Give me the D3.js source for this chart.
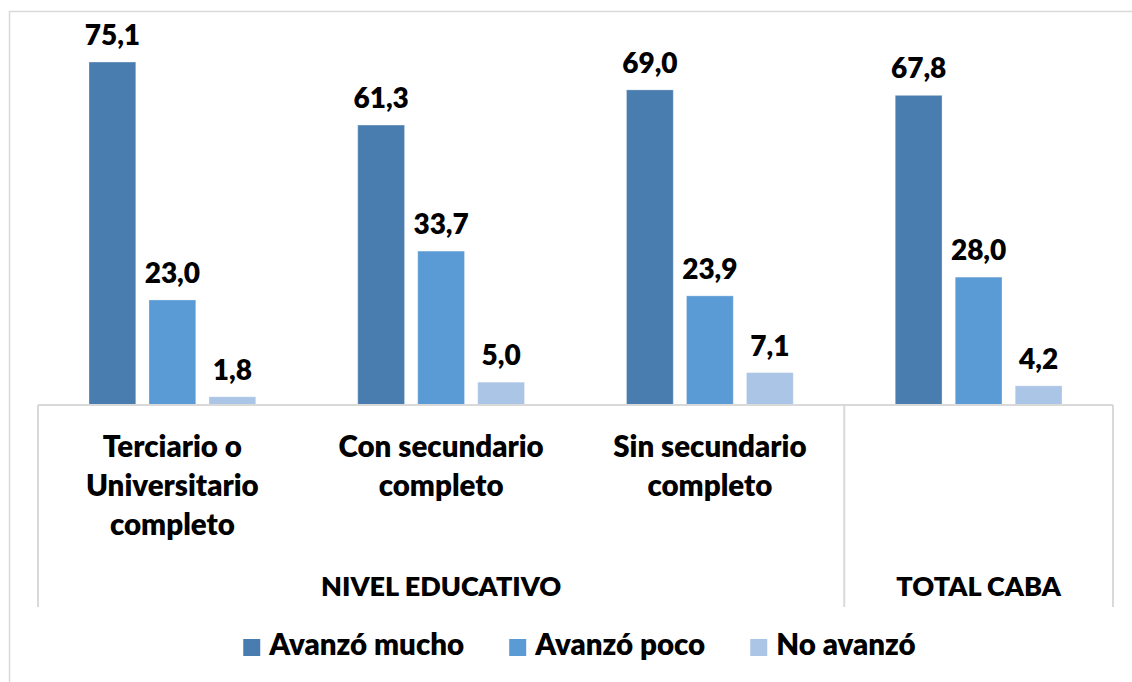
<!DOCTYPE html>
<html>
<head>
<meta charset="utf-8">
<script src="https://cdn.jsdelivr.net/npm/d3@7"></script>
<style>
  body { margin: 0; background: #fff; overflow: hidden; }
  text { font-family: Lato, "Open Sans", sans-serif; font-weight: 800; fill: #000; }
</style>
</head>
<body>
<script>
// data
var categories = ["Terciario o|Universitario|completo", "Con secundario|completo", "Sin secundario|completo", ""];
var groupLabels = ["NIVEL EDUCATIVO", "TOTAL CABA"];
var groupSpans = [3, 1];
var series = ["Avanzó mucho", "Avanzó poco", "No avanzó"];
var avanzoMucho = [75.1, 61.3, 69.0, 67.8];
var avanzoPoco = [23.0, 33.7, 23.9, 28.0];
var noAvanzo = [1.8, 5.0, 7.1, 4.2];
var colors = ["#4A7DAF", "#5B9BD5", "#ABC5E6"];

var values = [avanzoMucho, avanzoPoco, noAvanzo];

var width = 1132;
var height = 682;
var baseY = 405;
var gridColor = "#D9D9D9";

var svg = d3.select("body").append("svg")
        .attr("width", width)
        .attr("height", height);

// chart frame (runs past the right and bottom of the picture)
svg.append("rect")
    .attr("x", 9.5)
    .attr("y", 11.5)
    .attr("width", 1140)
    .attr("height", 700)
    .attr("fill", "none")
    .attr("stroke", gridColor)
    .attr("stroke-width", 1.5);

var x0 = d3.scaleBand()
    .domain(d3.range(categories.length))
    .range([38, 1113]);

var x1 = d3.scaleBand()
    .domain(d3.range(series.length))
    .range([0, x0.bandwidth()])
    .paddingInner(0.22)
    .paddingOuter(0.85);

var y = d3.scaleLinear()
    .domain([0, 80])
    .range([baseY, baseY - 80 * 4.567]);

var fmt = function(v) { return d3.format(".1f")(v).replace(".", ","); };

// bars
series.forEach(function(s, si) {
    var g = svg.append("g");
    g.selectAll("rect").data(values[si]).enter().append("rect")
        .attr("x", function(d, i) { return x0(i) + x1(si); })
        .attr("y", function(d) { return y(d); })
        .attr("width", x1.bandwidth())
        .attr("height", function(d) { return y(0) - y(d); })
        .attr("fill", colors[si])
        .attr("stroke", "#fff")
        .attr("stroke-opacity", 0.3);

    g.selectAll("text").data(values[si]).enter().append("text")
        .attr("x", function(d, i) { return x0(i) + x1(si) + x1.bandwidth() / 2; })
        .attr("y", function(d) { return y(d) - 17; })
        .attr("text-anchor", "middle")
        .style("font-size", "28px")
        .text(fmt);
});

// axis line and category separators
svg.append("line")
    .attr("x1", x0.range()[0]).attr("x2", x0.range()[1])
    .attr("y1", baseY).attr("y2", baseY)
    .attr("stroke", gridColor).attr("stroke-width", 2);

var sepIdx = [0];
var acc = 0;
groupSpans.forEach(function(n) { acc += n; sepIdx.push(acc); });
svg.selectAll(".sep").data(sepIdx).enter().append("line")
    .classed("sep", true)
    .attr("x1", function(d) { return x0.range()[0] + d * x0.step(); })
    .attr("x2", function(d) { return x0.range()[0] + d * x0.step(); })
    .attr("y1", baseY)
    .attr("y2", 607)
    .attr("stroke", gridColor)
    .attr("stroke-width", 2);

// category labels (multi-line)
categories.forEach(function(c, i) {
    if (!c) return;
    var t = svg.append("text")
        .attr("text-anchor", "middle")
        .style("font-size", "29.5px");
    c.split("|").forEach(function(line, li) {
        t.append("tspan")
            .attr("x", x0(i) + x0.bandwidth() / 2)
            .attr("y", 457 + li * 39)
            .text(line);
    });
});

// outer group labels
var start = 0;
groupLabels.forEach(function(g, gi) {
    var xa = x0.range()[0] + start * x0.step();
    var xb = xa + groupSpans[gi] * x0.step();
    svg.append("text")
        .attr("x", (xa + xb) / 2)
        .attr("y", 596)
        .attr("text-anchor", "middle")
        .style("font-size", "27px")
        .text(g);
    start += groupSpans[gi];
});

// legend
var legend = svg.append("g");
var lx = 0;
series.forEach(function(s, si) {
    var item = legend.append("g").attr("transform", "translate(" + lx + ",0)");
    item.append("rect")
        .attr("x", 0).attr("y", 639)
        .attr("width", 17).attr("height", 17)
        .attr("fill", colors[si]);
    var t = item.append("text")
        .attr("x", 26).attr("y", 655)
        .style("font-size", "29.5px")
        .text(s);
    lx += 26 + t.node().getComputedTextLength() + 45;
});
var legW = lx - 45;
legend.attr("transform", "translate(" + (579.5 - legW / 2) + ",0)");
</script>
</body>
</html>
